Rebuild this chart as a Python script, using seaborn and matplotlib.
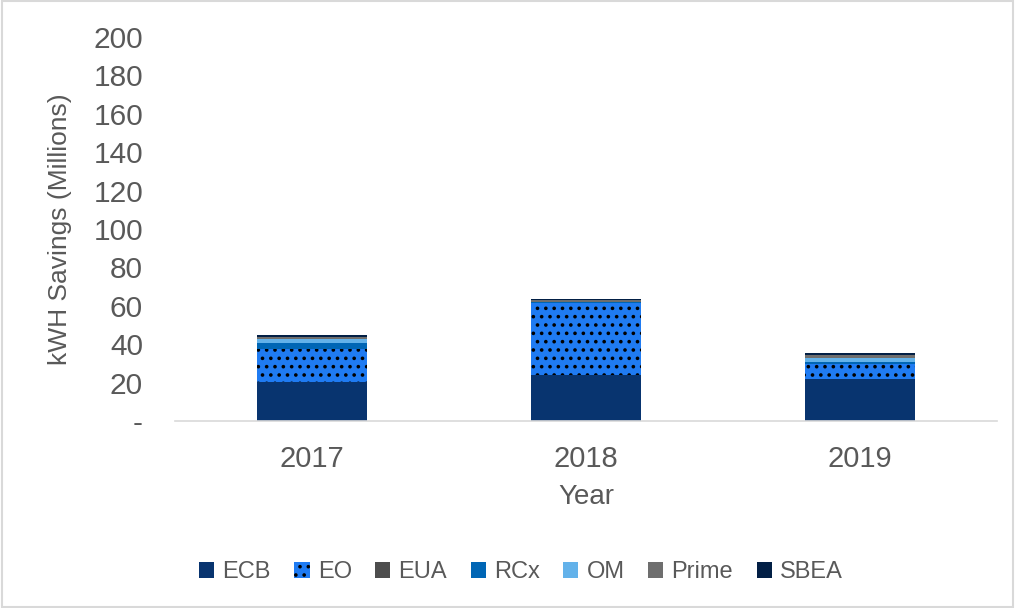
import numpy as np
import pandas as pd
import matplotlib
matplotlib.use("Agg")
import matplotlib.pyplot as plt
import seaborn as sns

# Dữ liệu (triệu kWh)
years = ["2017", "2018", "2019"]
programs = ["ECB", "EO", "EUA", "RCx", "OM", "Prime", "SBEA"]
ecb = [20.5, 24.0, 21.7]
eo = [17.0, 37.5, 7.8]
eua = [0.2, 0.1, 0.1]
rcx = [3.1, 0.3, 1.2]
om = [2.1, 0.3, 1.9]
prime = [1.0, 0.8, 1.5]
sbea = [0.7, 0.8, 1.3]
yticks = [0, 20, 40, 60, 80, 100, 120, 140, 160, 180, 200]

series = {"ECB": ecb, "EO": eo, "EUA": eua, "RCx": rcx, "OM": om, "Prime": prime, "SBEA": sbea}
colors = {"ECB": "#08346f", "EO": "#1f7bf2", "EUA": "#4d4d4d", "RCx": "#0066b5",
          "OM": "#63b2ea", "Prime": "#6e6e6e", "SBEA": "#021f45"}

sns.set_style("white")
plt.rcParams["font.family"] = ["Liberation Sans", "DejaVu Sans"]
plt.rcParams["hatch.linewidth"] = 1.4
text_color = "#595959"

fig = plt.figure(figsize=(10.15, 6.08), dpi=100)
ax = fig.add_axes([175 / 1015, 1 - 421 / 608, 822 / 1015, 384 / 608])

bottom = np.zeros(len(years))
for name in programs:
    vals = np.array(series[name])
    df = pd.DataFrame({"Year": years, "val": vals})
    n_before = len(ax.patches)
    sns.barplot(data=df, x="Year", y="val", bottom=bottom, color=colors[name],
                width=0.4, ax=ax, linewidth=0, saturation=1, label=name)
    if name == "EO":
        # hoa văn chấm đen cho EO
        for p in ax.patches[n_before:]:
            p.set_hatch("..")
            p.set_edgecolor("black")
            p.set_linewidth(0)
    bottom += vals

handles, labels = ax.get_legend_handles_labels()
if ax.get_legend() is not None:
    ax.get_legend().remove()

ax.set_ylim(0, 200)
ax.set_xlim(-0.5, 2.5)
ax.set_yticks(yticks)
ax.set_yticklabels(["-"] + [str(v) for v in yticks[1:]])
ax.tick_params(axis="y", length=0, labelsize=21.5, colors=text_color, pad=23)
ax.tick_params(axis="x", length=0, labelsize=21, colors=text_color, pad=17)
for s in ["top", "right", "left"]:
    ax.spines[s].set_visible(False)
ax.spines["bottom"].set_color("#d9d9d9")
ax.spines["bottom"].set_linewidth(1.2)
ax.set_xlabel("Year", fontsize=20, color=text_color)
ax.set_ylabel("kWH Savings (Millions)", fontsize=19, color=text_color)
ax.xaxis.label.set_va("center")
ax.xaxis.set_label_coords(0.5, (421 - 497) / 384)
ax.yaxis.label.set_va("center")
ax.yaxis.set_label_coords((60 - 175) / 822, 0.5)

leg = fig.legend(handles, labels, loc="center", bbox_to_anchor=(521 / 1015, 1 - 572 / 608),
                 ncol=7, frameon=False, fontsize=17, handlelength=0.64, handleheight=0.64,
                 handletextpad=0.34, columnspacing=1.0)
for t in leg.get_texts():
    t.set_color(text_color)

# khung viền của biểu đồ
fig.patches.append(plt.Rectangle((0.002, 0.002), 0.996, 0.996, transform=fig.transFigure,
                                 fill=False, edgecolor="#d9d9d9", linewidth=1.5))

fig.savefig("out.png", dpi=100)
